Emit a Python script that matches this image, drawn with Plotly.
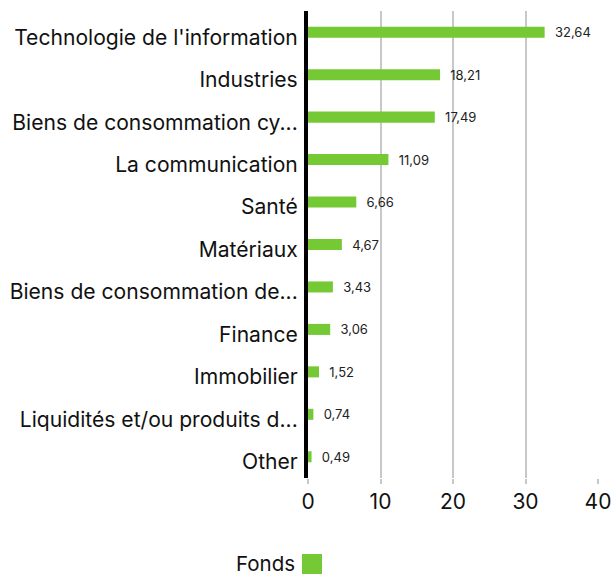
import plotly.graph_objects as go

categories = [
    "Technologie de l'information",
    "Industries",
    "Biens de consommation cy...",
    "La communication",
    "Santé",
    "Matériaux",
    "Biens de consommation de...",
    "Finance",
    "Immobilier",
    "Liquidités et/ou produits d...",
    "Other",
]
values = [32.64, 18.21, 17.49, 11.09, 6.66, 4.67, 3.43, 3.06, 1.52, 0.74, 0.49]
labels = ["\u00a0\u00a0" + f"{v:.2f}".replace(".", ",") for v in values]
x_ticks = [0, 10, 20, 30, 40]
series_name = "Fonds"
bar_color = "#74c935"

FONT = "Inter, Roboto, sans-serif"

# plot area geometry (px)
L, R, T, B = 308, 15, 11, 98
W, H = 613, 576
PW, PH = W - L - R, H - T - B

def px_x(p):
    return (p - L) / PW

def px_y(p):
    return (H - B - p) / PH

fig = go.Figure()
fig.add_trace(go.Bar(
    x=values, y=categories, orientation="h",
    marker=dict(color=bar_color, line=dict(width=0)),
    text=labels, textposition="outside", cliponaxis=False, constraintext="none",
    textfont=dict(size=13, color="#222222", family=FONT),
    name=series_name, showlegend=False,
))

# legend (text left of swatch, as in reference)
fig.add_annotation(
    text=series_name, xref="paper", yref="paper",
    x=px_x(297), y=px_y(563), xanchor="right", yanchor="middle",
    showarrow=False, font=dict(size=20.5, color="#111111", family=FONT),
)
fig.add_shape(
    type="rect", xref="paper", yref="paper",
    x0=px_x(302), x1=px_x(322), y0=px_y(574), y1=px_y(554),
    fillcolor=bar_color, line=dict(width=0),
)

fig.update_layout(
    width=W, height=H,
    margin=dict(l=L, r=R, t=T, b=B, autoexpand=False),
    plot_bgcolor="white", paper_bgcolor="white",
    bargap=0.74,
    font=dict(family=FONT, color="#111111"),
    showlegend=False,
    xaxis=dict(
        range=[0, 40], tickvals=x_ticks, showgrid=True, gridcolor="#c8c8c8", gridwidth=2,
        zeroline=False, showline=False, ticks="outside", ticklen=5, tickcolor="#c8c8c8",
        tickwidth=2, automargin=False,
        tickfont=dict(size=21, color="#111111"),
    ),
    yaxis=dict(
        autorange="reversed", showline=True, linecolor="black", linewidth=4,
        ticks="", ticklabelstandoff=2, ticklabelshift=-5,
        tickfont=dict(size=21.1, color="#111111"),
        showgrid=False, automargin=False,
    ),
)

fig.write_html(
    "out.html",
    config={"displayModeBar": False},
    post_script="document.body.style.margin='0';document.body.style.overflow='hidden';",
)
